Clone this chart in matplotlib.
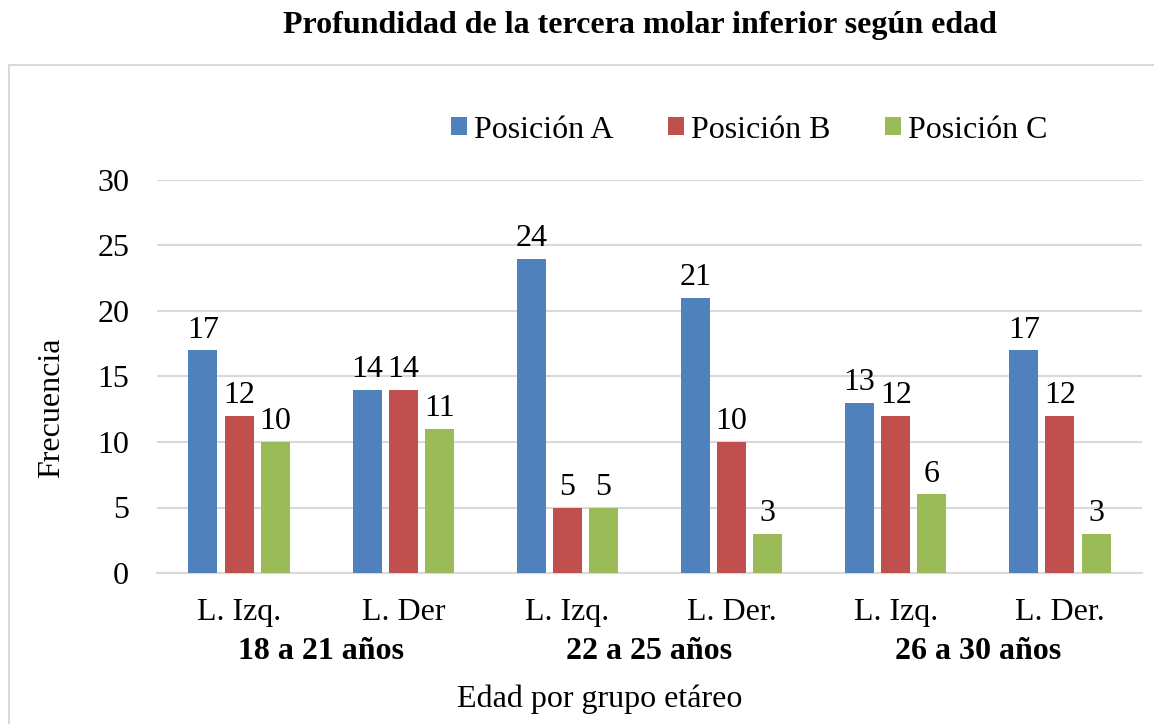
import matplotlib
matplotlib.use("Agg")
import matplotlib.pyplot as plt
from matplotlib.patches import Rectangle, Patch
import numpy as np

plt.rcParams['font.family'] = ['Liberation Serif', 'DejaVu Serif']

title = "Profundidad de la tercera molar inferior según edad"
sides = ["L. Izq.", "L. Der", "L. Izq.", "L. Der.", "L. Izq.", "L. Der."]
groups = ["18 a 21 años", "22 a 25 años", "26 a 30 años"]
series_names = ["Posición A", "Posición B", "Posición C"]
pos_a = [17, 14, 24, 21, 13, 17]
pos_b = [12, 14, 5, 10, 12, 12]
pos_c = [10, 11, 5, 3, 6, 3]
colors = ["#4F81BD", "#C0504D", "#9BBB59"]

W, H = 1154, 724
FS = 23
fig = plt.figure(figsize=(W / 100, H / 100), dpi=100)

# chart frame
fig.patches.append(Rectangle((9 / W, -0.1), 1.2, 1 - 65 / H + 0.1, transform=fig.transFigure,
                             fill=False, edgecolor="#D9D9D9", linewidth=1.5))

ax = fig.add_axes([157 / W, 1 - 573 / H, (1142 - 157) / W, (573 - 180) / H])
x = np.arange(len(sides))
width = 0.177
offs = [-0.22, 0.0, 0.22]
for vals, off, col, name in zip([pos_a, pos_b, pos_c], offs, colors, series_names):
    bars = ax.bar(x + off, vals, width, color=col, label=name, zorder=3)
    for b, v in zip(bars, vals):
        ax.annotate(str(v), (b.get_x() + b.get_width() / 2, v), xytext=(0, 4),
                    textcoords="offset points", ha="center", va="bottom", fontsize=FS)

ax.set_xlim(-0.5, len(sides) - 0.5)
ax.set_ylim(0, 30)
ax.set_yticks([0, 5, 10, 15, 20, 25, 30])
ax.yaxis.grid(True, color="#D9D9D9", linewidth=1.5, zorder=0)
ax.set_axisbelow(True)
for s in ["top", "right", "left"]:
    ax.spines[s].set_visible(False)
ax.spines["bottom"].set_color("#D9D9D9")
ax.spines["bottom"].set_linewidth(1.5)
ax.tick_params(axis="both", length=0, labelsize=FS)
ax.tick_params(axis="y", pad=20)
ax.tick_params(axis="x", pad=18)
ax.set_xticks(x)
ax.set_xticklabels(sides)

# group labels
for i, g in enumerate(groups):
    xc = 2 * i + 0.5
    xf = fig.transFigure.inverted().transform(ax.transData.transform((xc, 0)))[0]
    fig.text(xf, 1 - 659 / H, g, ha="center", va="baseline", fontsize=FS, fontweight="bold")

fig.text(600 / W, 1 - 699 / H, "Edad por grupo etáreo", ha="center", va="center", fontsize=FS)
fig.text(52 / W, 1 - 408 / H, "Frecuencia", ha="center", va="center", rotation=90, fontsize=FS)
fig.text(640 / W, 1 - 26 / H, title, ha="center", va="center", fontsize=FS, fontweight="bold")

handles = [Patch(facecolor=c, label=n) for c, n in zip(colors, series_names)]
fig.legend(handles=handles, loc="center", bbox_to_anchor=(749 / W, 1 - 130 / H), ncol=3,
           frameon=False, fontsize=FS, handlelength=0.5, handleheight=0.5,
           handletextpad=0.22, columnspacing=1.7)

fig.savefig("out.png", dpi=100)
